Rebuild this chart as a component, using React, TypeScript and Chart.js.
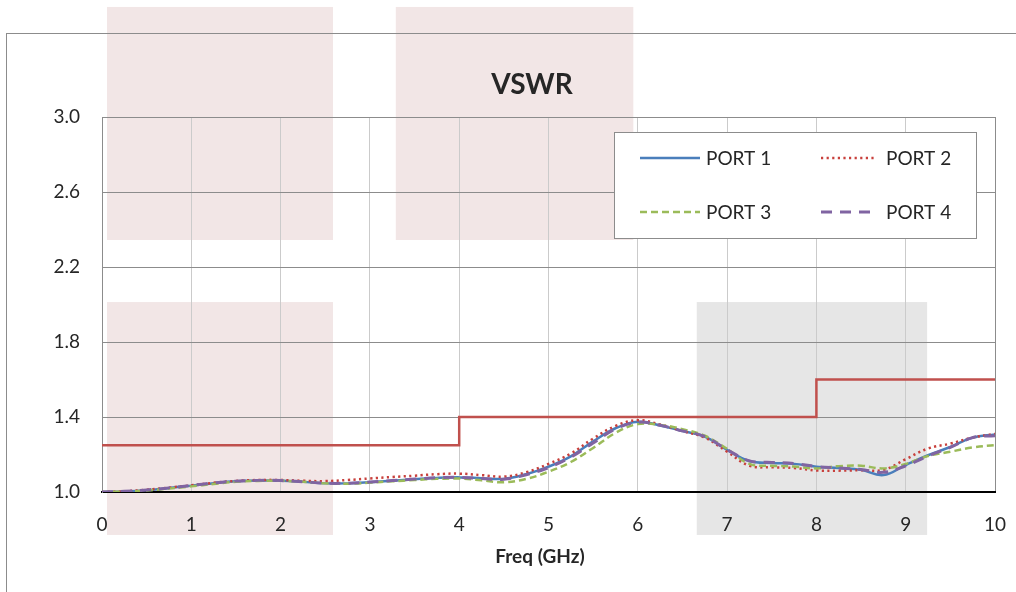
import React, { useEffect, useRef } from "react";
import { Chart, registerables } from "chart.js";

Chart.register(...registerables);

const FREQ = [0, 0.25, 0.5, 0.75, 1, 1.25, 1.5, 1.75, 2, 2.25, 2.5, 2.75, 3, 3.25, 3.5, 3.75, 4, 4.25, 4.5, 4.75, 5, 5.25, 5.5, 5.75, 6, 6.25, 6.5, 6.75, 7, 7.25, 7.5, 7.75, 8, 8.25, 8.5, 8.75, 9, 9.25, 9.5, 9.75, 10];

const PORT1 = [1.0, 1.003, 1.01, 1.021, 1.034, 1.047, 1.057, 1.061, 1.06, 1.054, 1.046, 1.046, 1.052, 1.06, 1.068, 1.075, 1.078, 1.074, 1.07, 1.095, 1.135, 1.19, 1.27, 1.34, 1.375, 1.355, 1.325, 1.295, 1.225, 1.165, 1.155, 1.15, 1.135, 1.128, 1.118, 1.09, 1.144, 1.196, 1.24, 1.29, 1.307];
const PORT2 = [1.0, 1.004, 1.012, 1.023, 1.036, 1.049, 1.059, 1.064, 1.064, 1.06, 1.058, 1.064, 1.072, 1.08, 1.087, 1.095, 1.098, 1.09, 1.082, 1.105, 1.15, 1.205, 1.285, 1.352, 1.383, 1.36, 1.325, 1.29, 1.215, 1.14, 1.132, 1.128, 1.115, 1.114, 1.116, 1.118, 1.175, 1.232, 1.258, 1.29, 1.31];
const PORT3 = [1.0, 1.002, 1.008, 1.018, 1.03, 1.043, 1.054, 1.059, 1.06, 1.055, 1.046, 1.044, 1.05, 1.057, 1.064, 1.07, 1.072, 1.062, 1.052, 1.07, 1.108, 1.16, 1.235, 1.315, 1.362, 1.358, 1.335, 1.3, 1.23, 1.15, 1.14, 1.136, 1.126, 1.138, 1.14, 1.126, 1.15, 1.192, 1.215, 1.238, 1.25];
const PORT4 = [1.0, 1.004, 1.011, 1.022, 1.035, 1.048, 1.058, 1.062, 1.061, 1.055, 1.047, 1.047, 1.053, 1.061, 1.069, 1.076, 1.078, 1.072, 1.068, 1.092, 1.13, 1.186, 1.262, 1.336, 1.372, 1.356, 1.326, 1.296, 1.226, 1.166, 1.158, 1.152, 1.136, 1.128, 1.12, 1.105, 1.14, 1.192, 1.238, 1.29, 1.3];

const LIMIT_FREQ = [0, 4, 4, 8, 8, 10];
const LIMIT_VSWR = [1.25, 1.25, 1.4, 1.4, 1.6, 1.6];

const SERIES_NAMES = ["PORT 1", "PORT 2", "PORT 3", "PORT 4"];
const X_TICKS = [0, 1, 2, 3, 4, 5, 6, 7, 8, 9, 10];
const Y_TICKS = [1.0, 1.4, 1.8, 2.2, 2.6, 3.0];

// background shaded blocks in data units (x0, x1, y0, y1)
const SHADE_X0 = [0.056, 0.056, 3.29, 6.66];
const SHADE_X1 = [2.587, 2.587, 5.95, 9.24];
const SHADE_Y0 = [2.344, 0.771, 2.344, 0.771];
const SHADE_Y1 = [3.587, 2.013, 3.587, 2.013];
const SHADE_COLORS = ["#f2e6e6", "#f2e6e6", "#f2e6e6", "#e6e6e6"];

const COLORS = ["#4a7ebb", "#c8403c", "#9bbb59", "#8064a2"];
const DASHES: number[][] = [[], [2.2, 3.4], [7, 4], [11, 8]];
const WIDTHS = [2.5, 2.5, 2.5, 3];
const FONT = "Lato, 'Open Sans', sans-serif";
const TEXT = "#262626";

function pts(ys: number[], xs: number[]) {
  return xs.map((x, i) => ({ x, y: ys[i] }));
}

export default function App() {
  const ref = useRef<HTMLCanvasElement | null>(null);
  useEffect(() => {
    if (!ref.current) return;
    const bg = {
      id: "bg",
      beforeDraw(chart: any) {
        const { ctx, scales } = chart;
        const xs = scales.x, ys = scales.y;
        ctx.save();
        ctx.fillStyle = "#ffffff";
        ctx.fillRect(0, 0, chart.width, chart.height);
        for (let i = 0; i < SHADE_X0.length; i++) {
          const a = xs.getPixelForValue(SHADE_X0[i]);
          const b = xs.getPixelForValue(SHADE_X1[i]);
          const c = ys.getPixelForValue(SHADE_Y1[i]);
          const d = ys.getPixelForValue(SHADE_Y0[i]);
          ctx.fillStyle = SHADE_COLORS[i];
          ctx.fillRect(a, c, b - a, d - c);
        }
        ctx.strokeStyle = "#8c8c8c";
        ctx.lineWidth = 1;
        ctx.strokeRect(6.5, 33.5, chart.width + 40, chart.height + 40);
        ctx.restore();
      },
    };
    const overlay = {
      id: "overlay",
      afterDraw(chart: any) {
        const { ctx } = chart;
        ctx.save();
        ctx.fillStyle = TEXT;
        ctx.textAlign = "center";
        ctx.textBaseline = "middle";
        ctx.font = `bold 28px ${FONT}`;
        ctx.fillText("VSWR", 532, 85);
        ctx.font = `bold 19px ${FONT}`;
        ctx.fillText("Freq (GHz)", 540, 557);
        // legend
        ctx.fillStyle = "#ffffff";
        ctx.fillRect(614.5, 132.5, 362, 106);
        ctx.strokeStyle = "#8c8c8c";
        ctx.lineWidth = 1;
        ctx.strokeRect(614.5, 132.5, 362, 106);
        const lx = [640, 821];
        const lw = [60, 56];
        const tx = [706, 886];
        const ry = [158, 212];
        for (let i = 0; i < 4; i++) {
          const col = i % 2, row = Math.floor(i / 2);
          ctx.beginPath();
          ctx.setLineDash(DASHES[i]);
          ctx.strokeStyle = COLORS[i];
          ctx.lineWidth = WIDTHS[i];
          ctx.moveTo(lx[col], ry[row]);
          ctx.lineTo(lx[col] + lw[col], ry[row]);
          ctx.stroke();
          ctx.setLineDash([]);
          ctx.fillStyle = TEXT;
          ctx.textAlign = "left";
          ctx.font = `19px ${FONT}`;
          ctx.fillText(SERIES_NAMES[i], tx[col], ry[row] + 1);
        }
        ctx.restore();
      },
    };
    const portData = [PORT1, PORT2, PORT3, PORT4];
    const datasets: any[] = portData.map((d, i) => ({
      label: SERIES_NAMES[i],
      data: pts(d, FREQ),
      borderColor: COLORS[i],
      backgroundColor: COLORS[i],
      borderDash: DASHES[i],
      borderWidth: WIDTHS[i],
      pointRadius: 0,
      tension: 0.4,
      fill: false,
      order: 4 - i,
    }));
    datasets.push({
      label: "Limit",
      data: pts(LIMIT_VSWR, LIMIT_FREQ),
      borderColor: "#c0504d",
      borderWidth: 2.5,
      pointRadius: 0,
      tension: 0,
      fill: false,
      order: 10,
    });
    const chart = new Chart(ref.current, {
      type: "line",
      data: { datasets },
      plugins: [bg, overlay],
      options: {
        animation: false,
        responsive: false,
        devicePixelRatio: 1,
        layout: { padding: { left: 0, right: 21, top: 117, bottom: 0 } },
        plugins: { legend: { display: false }, title: { display: false }, tooltip: { enabled: false } },
        scales: {
          x: {
            type: "linear",
            min: 0,
            max: 10,
            afterBuildTicks: (s: any) => { s.ticks = X_TICKS.map((v) => ({ value: v })); },
            afterFit: (s: any) => { s.height = 100; },
            ticks: { font: { family: FONT, size: 19 }, color: TEXT, padding: 0 },
            grid: {
              drawTicks: true,
              tickLength: 21,
              tickColor: "rgba(0,0,0,0)",
              color: (c: any) => (c.tick && c.tick.value === 10 ? "#8c8c8c" : "#cbcbcb"),
              lineWidth: 1,
            },
            border: { color: "#000000", width: 2 },
          },
          y: {
            type: "linear",
            min: 1,
            max: 3,
            afterBuildTicks: (s: any) => { s.ticks = Y_TICKS.map((v) => ({ value: v })); },
            afterFit: (s: any) => { s.width = 102; },
            ticks: { font: { family: FONT, size: 19 }, color: TEXT, padding: 22, callback: (v: any) => Number(v).toFixed(1) },
            grid: { drawTicks: false, color: "#8c8c8c", lineWidth: 1 },
            border: { color: "#8c8c8c", width: 1 },
          },
        },
      } as any,
    });
    return () => chart.destroy();
  }, []);
  return (
    <div style={{ position: "absolute", left: 0, top: 0, width: 1016, height: 592 }}>
      <canvas ref={ref} width={1016} height={592} style={{ width: 1016, height: 592, display: "block" }} />
    </div>
  );
}
